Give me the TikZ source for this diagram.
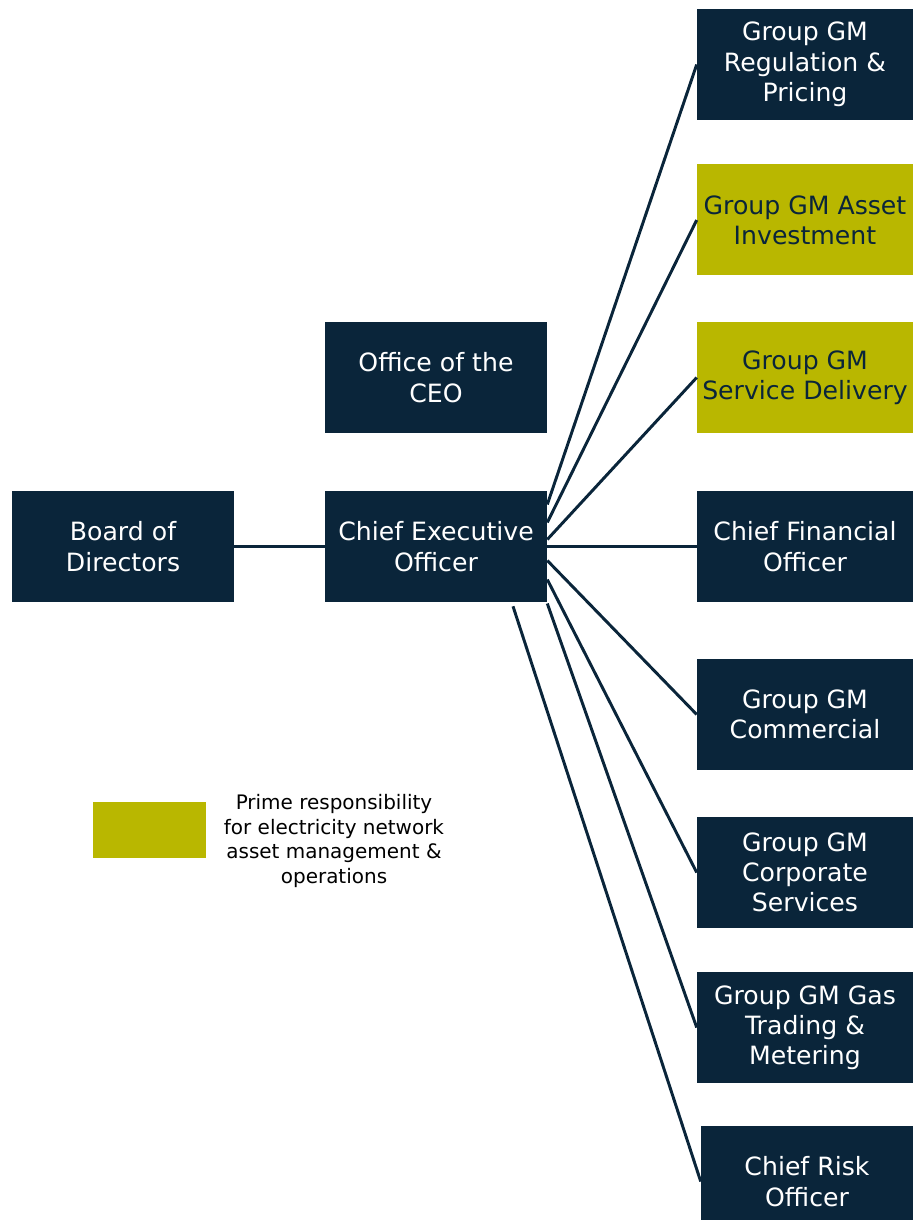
\documentclass[tikz,border=0pt]{standalone}
\usepackage{fontspec}
\setmainfont{DejaVu Sans}
\definecolor{OrgNavy}{RGB}{10,37,58}
\definecolor{OrgOlive}{RGB}{185,183,0}
\tikzstyle{orgbox}=[fill=OrgNavy, text=white, minimum width=216*0.025cm, minimum height=111*0.025cm, align=center, inner sep=0pt, font=\fontsize{17.9}{21.5}\selectfont]
\tikzstyle{orgboxhl}=[orgbox, fill=OrgOlive, text=OrgNavy]
\tikzstyle{orglink}=[draw=OrgNavy, line width=2.1pt]

\begin{document}
\begin{tikzpicture}[x=0.025cm, y=-0.025cm]
    \useasboundingbox (0,0) rectangle (913,1220);
    % left column
    \node [orgbox, minimum width=222*0.025cm] (board) at (123,546.5) {Board of\\Directors};
    \node [orgbox, minimum width=222*0.025cm] (office) at (436,377.5) {Office of the\\CEO};
    \node [orgbox, minimum width=222*0.025cm] (ceo) at (436,546.5) {Chief Executive\\Officer};
    % right column
    \node [orgbox] (regul) at (805,64.5) {Group GM\\Regulation \&\\Pricing};
    \node [orgboxhl] (asset) at (805,220) {Group GM Asset\\Investment};
    \node [orgboxhl] (service) at (805,377.5) {Group GM\\Service Delivery};
    \node [orgbox] (cfo) at (805,546.5) {Chief Financial\\Officer};
    \node [orgbox] (commerc) at (805,714.5) {Group GM\\Commercial};
    \node [orgbox] (corpserv) at (805,872.5) {Group GM\\Corporate\\Services};
    \node [orgbox] (gastrade) at (805,1027.5) {Group GM Gas\\Trading \&\\Metering};
    \node [orgbox, minimum width=212*0.025cm] (risk) at (807,1181.5) {Chief Risk\\Officer};
    % legend
    \node [fill=OrgOlive, minimum width=113*0.025cm, minimum height=56*0.025cm, inner sep=0pt] (legkey) at (149.5,830) {};
    \node [align=center, inner sep=0pt, font=\fontsize{14.2}{17.5}\selectfont] (legtext) at (334,841) {Prime responsibility\\for electricity network\\asset management \&\\operations};
    % links
    \draw [orglink] (board.east) -- (ceo.west);
    \draw [orglink] ([yshift=42*0.025cm]ceo.east) -- (regul.west);
    \draw [orglink] ([yshift=24*0.025cm]ceo.east) -- (asset.west);
    \draw [orglink] ([yshift=7*0.025cm]ceo.east) -- (service.west);
    \draw [orglink] (ceo.east) -- (cfo.west);
    \draw [orglink] ([yshift=-14*0.025cm]ceo.east) -- (commerc.west);
    \draw [orglink] ([yshift=-33*0.025cm]ceo.east) -- (corpserv.west);
    \draw [orglink] ([yshift=-57*0.025cm]ceo.east) -- (gastrade.west);
    \draw [orglink] ([xshift=77*0.025cm,yshift=-4*0.025cm]ceo.south) -- (risk.west);
\end{tikzpicture}
\end{document}
